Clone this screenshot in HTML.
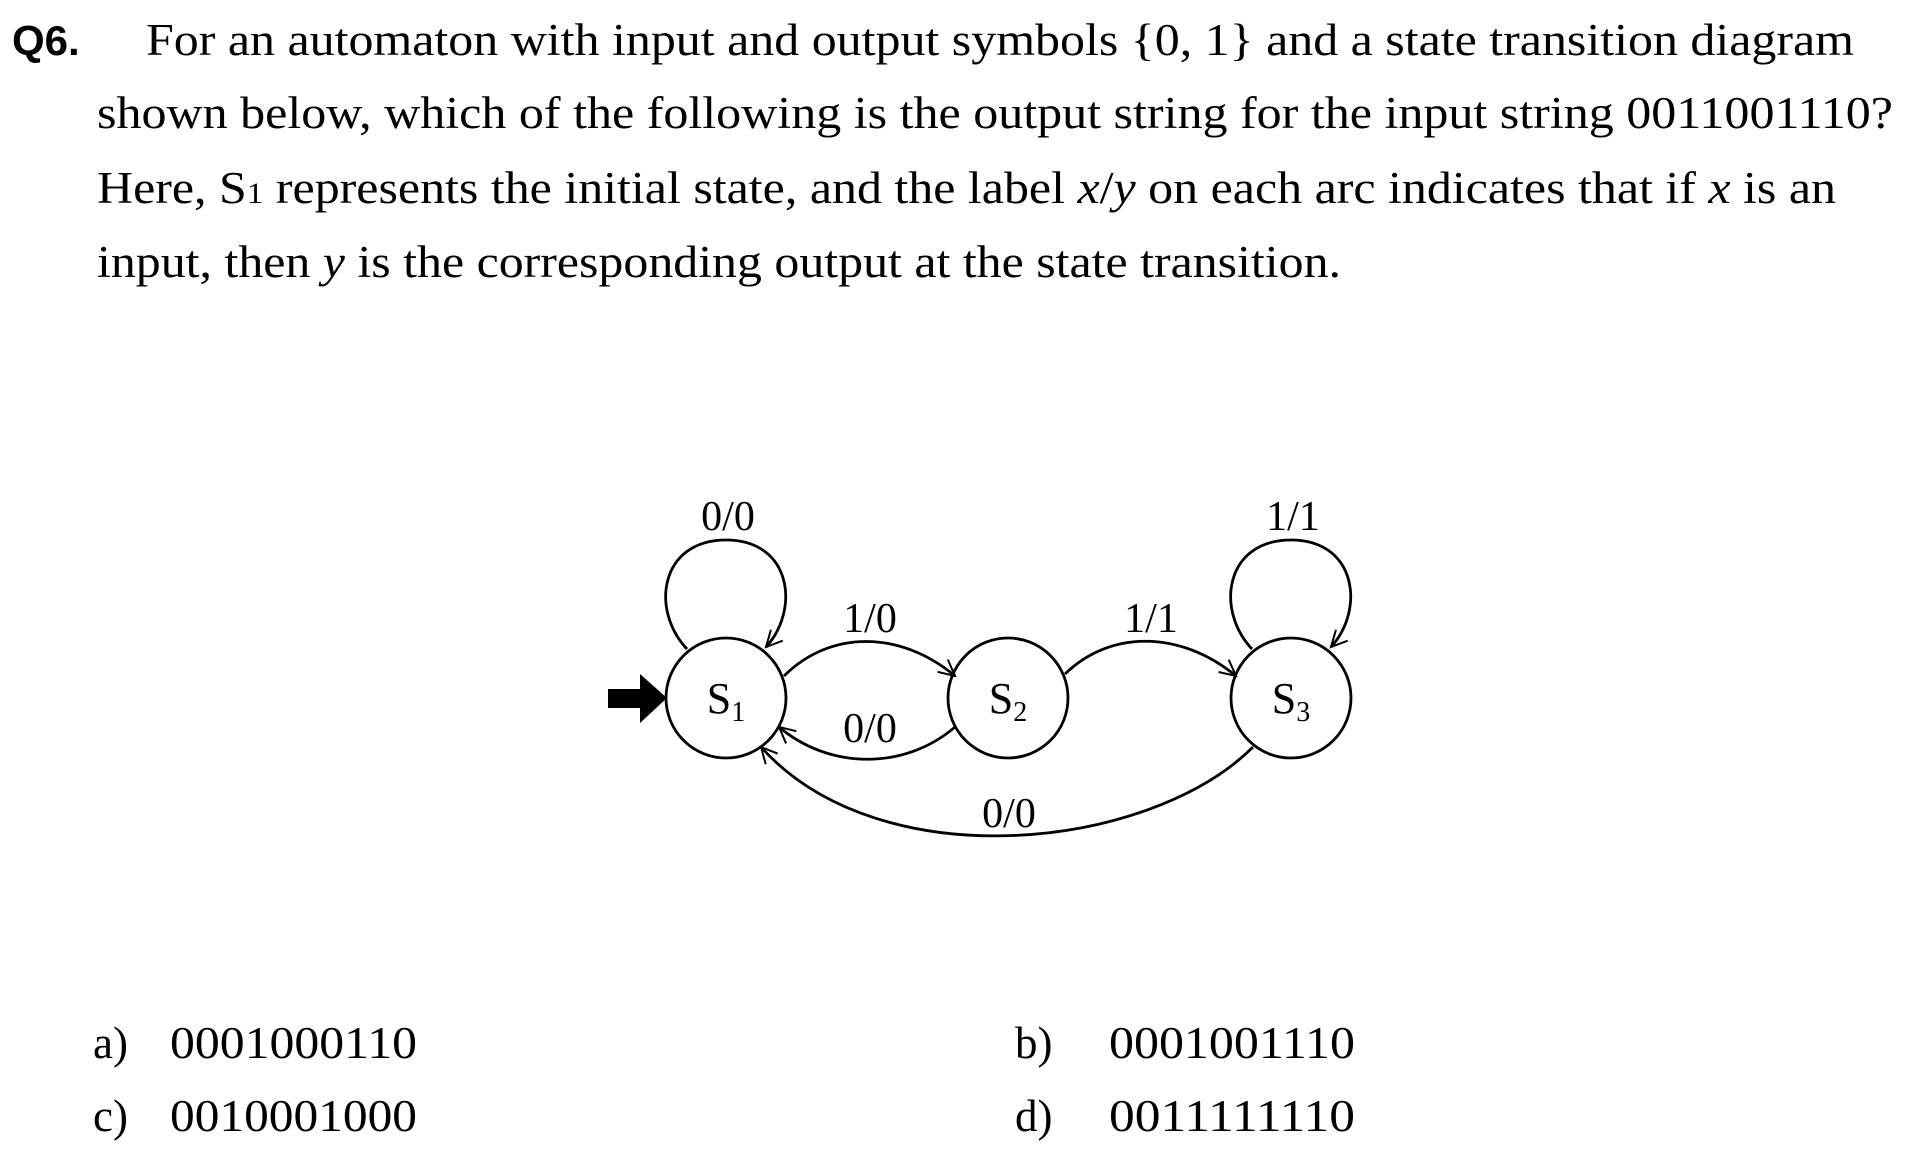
<!DOCTYPE html>
<html><head><meta charset="utf-8"><style>html,body{margin:0;padding:0;background:#fff}svg{display:block}</style></head>
<body>
<svg width="1906" height="1157" viewBox="0 0 1906 1157" xmlns="http://www.w3.org/2000/svg">
<defs>
<marker id="ah" viewBox="0 0 20 20" refX="18" refY="10" markerWidth="20" markerHeight="20" markerUnits="userSpaceOnUse" orient="auto">
<polyline points="2,2 18,10 2,18" fill="none" stroke="#000" stroke-width="2"/>
</marker>
</defs>
<g font-family="'Liberation Serif', serif" font-size="45" fill="#000">
<text x="12" y="55" font-family="'Liberation Sans', sans-serif" font-weight="bold" font-size="42">Q6.</text>
<text x="146" y="55" textLength="1708" lengthAdjust="spacingAndGlyphs">For an automaton with input and output symbols {0, 1} and a state transition diagram</text>
<text x="97" y="128" textLength="1796" lengthAdjust="spacingAndGlyphs">shown below, which of the following is the output string for the input string 0011001110?</text>
<text x="97" y="203" textLength="1739" lengthAdjust="spacingAndGlyphs">Here, S<tspan font-size="30">1</tspan> represents the initial state, and the label <tspan font-style="italic">x</tspan>/<tspan font-style="italic">y</tspan> on each arc indicates that if <tspan font-style="italic">x</tspan> is an</text>
<text x="97" y="277" textLength="1244" lengthAdjust="spacingAndGlyphs">input, then <tspan font-style="italic">y</tspan> is the corresponding output at the state transition.</text>
</g>
<g fill="none" stroke="#000" stroke-width="2.8">
<polygon points="608,689 640,689 640,674 667,698 640,723 640,708 608,708" fill="#000" stroke="none"/>
<circle cx="726" cy="698" r="60"/>
<circle cx="1008" cy="698" r="60"/>
<circle cx="1291" cy="698" r="60"/>
<path d="M687,649 C650,610 660,540 726,540 C792,540 800,610 766,647" marker-end="url(#ah)"/>
<path d="M1252,649 C1215,610 1225,540 1291,540 C1357,540 1365,610 1331,647" marker-end="url(#ah)"/>
<path d="M784,676 C830,630 900,630 955,676" marker-end="url(#ah)"/>
<path d="M1065,674 C1110,630 1180,630 1236,676" marker-end="url(#ah)"/>
<path d="M955,727 C905,770 830,770 779,727" marker-end="url(#ah)"/>
<path d="M1253,747 C1150,850 880,880 761,747" marker-end="url(#ah)"/>
</g>
<g font-family="'Liberation Serif', serif" font-size="42" fill="#000" text-anchor="middle">
<text x="728" y="530">0/0</text>
<text x="1293" y="530">1/1</text>
<text x="870" y="632">1/0</text>
<text x="1151" y="632">1/1</text>
<text x="870" y="742">0/0</text>
<text x="1009" y="827">0/0</text>
<text x="726" y="713" font-size="44">S<tspan font-size="28" dy="8">1</tspan></text>
<text x="1008" y="713" font-size="44">S<tspan font-size="28" dy="8">2</tspan></text>
<text x="1291" y="713" font-size="44">S<tspan font-size="28" dy="8">3</tspan></text>
</g>
<g font-family="'Liberation Serif', serif" font-size="45" fill="#000">
<text x="93" y="1058">a)</text>
<text x="170" y="1058" textLength="247" lengthAdjust="spacingAndGlyphs">0001000110</text>
<text x="1015" y="1058">b)</text>
<text x="1109" y="1058" textLength="246" lengthAdjust="spacingAndGlyphs">0001001110</text>
<text x="93" y="1131">c)</text>
<text x="170" y="1131" textLength="247" lengthAdjust="spacingAndGlyphs">0010001000</text>
<text x="1015" y="1131">d)</text>
<text x="1109" y="1131" textLength="246" lengthAdjust="spacingAndGlyphs">0011111110</text>
</g>
</svg>
</body></html>
